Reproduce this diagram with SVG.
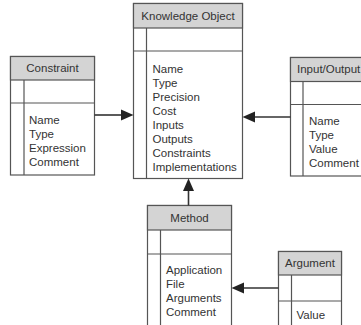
<svg xmlns="http://www.w3.org/2000/svg" width="361" height="325" viewBox="0 0 361 325">
<style>
.box{fill:#fff;stroke:#555;stroke-width:1.2}
.hdr{fill:#d4d4d4;stroke:#555;stroke-width:1.2}
.ln{stroke:#555;stroke-width:1.2;fill:none}
.t{font-family:"Liberation Sans",Arial,sans-serif;font-size:11.5px;fill:#333}
.c{text-anchor:middle}
.conn{stroke:#333;stroke-width:1.6;fill:none}
.head{fill:#222}
</style>
<rect width="361" height="325" fill="#fff"/>
<g id="knowledge-object">
<rect class="box" x="133.5" y="3.5" width="109" height="175"/>
<rect class="hdr" x="133.5" y="3.5" width="109" height="24.5"/>
<line class="ln" x1="133.5" y1="51" x2="242.5" y2="51"/>
<line class="ln" x1="146.5" y1="28" x2="146.5" y2="178.5"/>
<text class="t c" x="188" y="20">Knowledge Object</text>
<text class="t" x="152.5" y="72.5">Name</text>
<text class="t" x="152.5" y="86.5">Type</text>
<text class="t" x="152.5" y="100.5">Precision</text>
<text class="t" x="152.5" y="114.5">Cost</text>
<text class="t" x="152.5" y="128.5">Inputs</text>
<text class="t" x="152.5" y="142.5">Outputs</text>
<text class="t" x="152.5" y="156.5">Constraints</text>
<text class="t" x="152.5" y="170.5">Implementations</text>
</g>
<g id="constraint">
<rect class="box" x="10.5" y="56.5" width="84" height="118.5"/>
<rect class="hdr" x="10.5" y="56.5" width="84" height="23.5"/>
<line class="ln" x1="10.5" y1="103" x2="94.5" y2="103"/>
<line class="ln" x1="24" y1="80" x2="24" y2="175"/>
<text class="t c" x="52.5" y="71.5">Constraint</text>
<text class="t" x="29" y="124">Name</text>
<text class="t" x="29" y="138">Type</text>
<text class="t" x="29" y="152">Expression</text>
<text class="t" x="29" y="166">Comment</text>
</g>
<g id="input-output">
<rect class="box" x="290.5" y="57.5" width="80" height="118.5"/>
<rect class="hdr" x="290.5" y="57.5" width="80" height="24"/>
<line class="ln" x1="290.5" y1="104.5" x2="370.5" y2="104.5"/>
<line class="ln" x1="303" y1="81.5" x2="303" y2="176"/>
<text class="t" x="297" y="73">Input/Output</text>
<text class="t" x="309" y="125">Name</text>
<text class="t" x="309" y="139">Type</text>
<text class="t" x="309" y="153">Value</text>
<text class="t" x="309" y="167">Comment</text>
</g>
<g id="method">
<rect class="box" x="147.5" y="205.5" width="84" height="130"/>
<rect class="hdr" x="147.5" y="205.5" width="84" height="24.5"/>
<line class="ln" x1="147.5" y1="254" x2="231.5" y2="254"/>
<line class="ln" x1="160.5" y1="230" x2="160.5" y2="330"/>
<text class="t c" x="189.5" y="222">Method</text>
<text class="t" x="166" y="274">Application</text>
<text class="t" x="166" y="288">File</text>
<text class="t" x="166" y="302">Arguments</text>
<text class="t" x="166" y="316">Comment</text>
</g>
<g id="argument">
<rect class="box" x="278.5" y="251.5" width="63" height="84"/>
<rect class="hdr" x="278.5" y="251.5" width="63" height="23.5"/>
<line class="ln" x1="278.5" y1="301" x2="341.5" y2="301"/>
<line class="ln" x1="291.5" y1="275" x2="291.5" y2="330"/>
<text class="t c" x="310" y="267">Argument</text>
<text class="t" x="296.5" y="319">Value</text>
</g>
<g id="connectors">
<line class="conn" x1="94.5" y1="115" x2="122" y2="115"/>
<polygon class="head" points="133.5,115 121,109.5 121,120.5"/>
<line class="conn" x1="290.5" y1="117" x2="254" y2="117"/>
<polygon class="head" points="242.5,117 255,111.5 255,122.5"/>
<line class="conn" x1="188.5" y1="205.5" x2="188.5" y2="190"/>
<polygon class="head" points="188.5,178.5 183,191 194,191"/>
<line class="conn" x1="278.5" y1="288" x2="242" y2="288"/>
<polygon class="head" points="231.5,288 244,282.5 244,293.5"/>
</g>
</svg>
